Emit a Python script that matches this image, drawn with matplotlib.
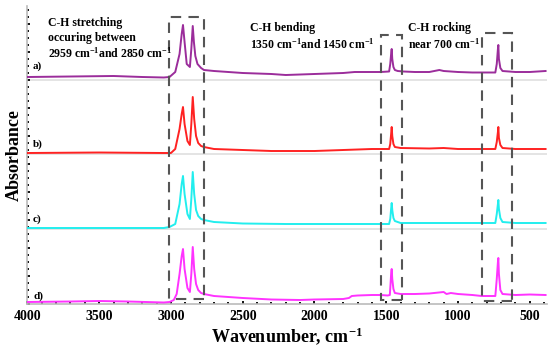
import numpy as np
import matplotlib.pyplot as plt
from matplotlib.patches import Rectangle
from matplotlib.ticker import MultipleLocator, NullFormatter

plt.rcParams['font.family'] = 'Liberation Serif'
plt.rcParams['font.weight'] = 'bold'
plt.rcParams['mathtext.fontset'] = 'custom'
plt.rcParams['mathtext.rm'] = 'Liberation Serif:bold'
plt.rcParams['mathtext.bf'] = 'Liberation Serif:bold'
plt.rcParams['mathtext.default'] = 'bf'

# Spektren (Wellenzahl / cm^-1, Absorbanz mit Versatz, willkuerliche Einheiten)
wn_a = [4000, 3700, 3400, 3200, 3050, 3010, 2970, 2940, 2925, 2916, 2905, 2890, 2868, 2858, 2848,
        2840, 2830, 2815, 2790, 2770, 2700, 2600, 2500, 2300, 2200, 2000, 1900, 1800, 1720, 1600,
        1540, 1480, 1472, 1466, 1462, 1458, 1450, 1440, 1420, 1380, 1300, 1200, 1130, 1100, 1050,
        1000, 900, 835, 740, 730, 722, 719, 715, 705, 690, 600, 500, 390]
abs_a = [227, 227.5, 228, 227, 226.5, 227, 232, 250, 270, 279, 262, 240, 237, 255, 278,
         262, 248, 240, 236, 234, 233, 232, 231, 230, 229, 230, 230.5, 231, 232, 232,
         232, 232.5, 240, 250, 255, 245, 237, 234, 233, 232.5, 232, 232, 234, 233, 232.5,
         232, 231.5, 231.5, 231.5, 240, 255, 259, 245, 236, 233, 232, 232, 233]

wn_b = [4000, 3500, 3050, 3000, 2970, 2940, 2925, 2916, 2905, 2885, 2868, 2858, 2848, 2838, 2825,
        2810, 2790, 2770, 2700, 2500, 2300, 2000, 1800, 1700, 1600, 1540, 1480, 1472, 1466, 1462,
        1458, 1450, 1440, 1400, 1200, 1100, 1000, 835, 740, 730, 722, 719, 715, 705, 690, 600, 390]
abs_b = [151, 151.5, 151, 151, 155, 175, 190, 197, 180, 163, 159, 180, 207, 185, 168,
         161, 158, 157, 155, 154, 153, 153, 154, 154.5, 155, 155, 155, 160, 170, 177,
         168, 160, 157, 156, 155.5, 156, 155, 155, 155, 162, 172, 177, 166, 159, 156, 155, 155]

wn_c = [4000, 3500, 3050, 3010, 2970, 2940, 2925, 2916, 2905, 2885, 2868, 2858, 2848, 2838, 2825,
        2810, 2790, 2770, 2700, 2500, 2200, 2000, 1800, 1600, 1540, 1480, 1472, 1466, 1462, 1458,
        1450, 1440, 1400, 1200, 1000, 835, 740, 730, 722, 719, 715, 705, 690, 600, 390]
abs_c = [76, 76, 76, 77, 80, 100, 120, 128, 110, 90, 85, 105, 132, 110, 94,
         88, 85, 84, 82, 80.5, 80, 80, 80, 80, 80, 80, 85, 95, 101, 94,
         86, 83, 81, 81, 81, 81, 81, 90, 100, 104, 95, 86, 82, 81, 81]

wn_d = [4000, 3700, 3500, 3300, 3050, 3010, 2980, 2960, 2940, 2925, 2916, 2905, 2885, 2868, 2858,
        2848, 2838, 2825, 2810, 2790, 2770, 2700, 2500, 2300, 2100, 2000, 1800, 1760, 1740, 1700,
        1600, 1540, 1490, 1475, 1470, 1466, 1462, 1458, 1450, 1440, 1400, 1300, 1200, 1100, 1080,
        1050, 1000, 900, 835, 740, 730, 722, 719, 715, 705, 690, 600, 500, 390]
abs_d = [2, 2.5, 3, 2.5, 1.5, 2, 4, 10, 30, 48, 55, 35, 16, 12, 30,
         57, 35, 20, 14, 11, 10, 8, 6, 4.5, 4, 4.5, 5, 6, 8, 8.5,
         9, 9, 8.5, 9, 20, 30, 35, 25, 15, 11, 10, 10, 10.5, 12, 10,
         11, 10, 9, 8, 8, 25, 42, 46, 30, 14, 10, 9, 9.5, 9]

zero_lines = [224, 150, 75]
curve_labels = ['a)', 'b)', 'c)', 'd)']
colors = ['#9b2d9b', '#ff2222', '#22eeee', '#ff33ff']

# markierte Bereiche (Wellenzahl von, bis; Hoehe von, bis)
boxes = [(3014, 2770, 5, 287), (1538, 1392, 4, 269), (835, 627, 3, 271)]

W, H = 550, 354
fig = plt.figure(figsize=(W / 100, H / 100), dpi=100)
ax = fig.add_axes([27.4 / W, 1 - 304 / H, (547 - 27.4) / W, (304 - 6) / H])

for z in zero_lines:
    ax.axhline(z, color='#e2e2e2', lw=1.3, zorder=1)

for wn, ab, c in zip([wn_a, wn_b, wn_c, wn_d], [abs_a, abs_b, abs_c, abs_d], colors):
    ax.plot(wn, ab, color=c, lw=1.4, zorder=3)

for x0, x1, y0, y1 in boxes:
    ax.add_patch(Rectangle((x1, y0), x0 - x1, y1 - y0, fill=False, edgecolor='#555555',
                           lw=1.5, linestyle=(0, (5, 3.5)), zorder=4))

ax.set_xlim(4000, 380)
ax.set_ylim(0, 298)
ax.xaxis.set_major_locator(MultipleLocator(500))
ax.xaxis.set_minor_locator(MultipleLocator(100))
ax.yaxis.set_major_locator(MultipleLocator(28))
ax.yaxis.set_minor_locator(MultipleLocator(7))
ax.yaxis.set_major_formatter(NullFormatter())
ax.tick_params(axis='both', which='both', direction='in', color='black', width=1.3)
ax.tick_params(axis='both', which='major', length=2.5)
ax.tick_params(axis='both', which='minor', length=1.5)
ax.tick_params(axis='x', labelsize=10, pad=4)
for lab in ax.get_xticklabels():
    lab.set_fontweight('bold')
for s in ['top', 'right']:
    ax.spines[s].set_visible(False)
for s in ['left', 'bottom']:
    ax.spines[s].set_color('#bbbbbb')
    ax.spines[s].set_linewidth(1.2)

ax.set_xlabel('Wavenumber, cm$^{-1}$', fontsize=13, fontweight='bold', labelpad=2)
ax.set_ylabel('Absorbance', fontsize=13, fontweight='bold', labelpad=0)

def ftext(x, y, s, **kw):
    fig.text(x / W, 1 - y / H, s, va='center', ha='left', fontweight='bold', **kw)

ftext(48, 23, 'C-H stretching', fontsize=8.5)
ftext(48, 38, 'occuring between', fontsize=8.5)
ftext(48, 53, '2959 cm$^{-1}$and 2850 cm$^{-1}$', fontsize=8.5)
ftext(250, 28, 'C-H bending', fontsize=8.5)
ftext(250, 44, '1350 cm$^{-1}$and 1450 cm$^{-1}$', fontsize=8.5)
ftext(408, 28, 'C-H rocking', fontsize=8.5)
ftext(408, 44, 'near 700 cm$^{-1}$', fontsize=8.5)

for lab, y in zip(curve_labels, [66, 144, 219, 296]):
    ftext(33, y, lab, fontsize=8)

plt.savefig('out.png', dpi=100)
plt.close(fig)
